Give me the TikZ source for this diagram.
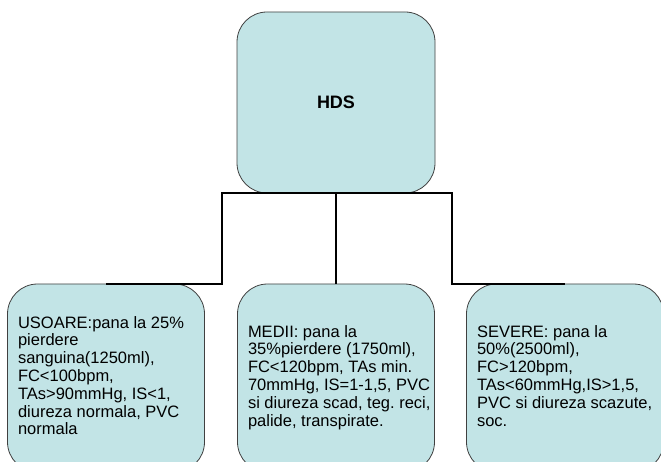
\documentclass[tikz,border=0pt]{standalone}
\usepackage{fontspec}
\setmainfont{Liberation Sans}
\frenchspacing
\definecolor{boxfill}{RGB}{194,228,230}
% lines of a box, left aligned, never broken again
\newcommand{\boxlines}[1]{\makebox[176pt][l]{\begin{tabular}{@{}l@{}}#1\end{tabular}}}
\begin{document}
\begin{tikzpicture}[x=1pt,y=-1pt,
		box/.style={draw=black!75, line width=0.8pt, fill=boxfill, rounded corners=30pt},
		leaf/.style={box, minimum width=197pt, minimum height=188pt,
			font=\fontsize{16.5}{17.8}\selectfont},
		conn/.style={draw=black, line width=2pt}]
	\useasboundingbox (0,0) rectangle (661,462);
	\clip (0,0) rectangle (661,462);
	
	% root
	\node[box, minimum width=198pt, minimum height=181pt, font=\fontsize{18}{20}\selectfont\bfseries] (hds) at (336,102.5) {HDS};
	
	% three kinds
	\node[leaf] (usoare) at (106,378) {\boxlines{USOARE:pana la 25\%\\ pierdere\\ sanguina(1250ml),\\ FC<100bpm,\\ TAs>90mmHg, IS<1,\\ diureza normala, PVC\\ normala}};
	\node[leaf] (medii) at (336,378) {\boxlines{MEDII: pana la\\ 35\%pierdere (1750ml),\\ FC<120bpm, TAs min.\\ 70mmHg, IS=1-1,5, PVC\\ si diureza scad, teg. reci,\\ palide, transpirate.}};
	\node[leaf] (severe) at (565,378) {\boxlines{SEVERE: pana la\\ 50\%(2500ml),\\ FC>120bpm,\\ TAs<60mmHg,IS>1,5,\\ PVC si diureza scazute,\\ soc.}};
	
	\draw[conn] (hds.south) -- ++(-114,0) |- (usoare.north);
	\draw[conn] (hds.south) -- (medii.north);
	\draw[conn] (hds.south) -- ++(116,0) |- (severe.north);
\end{tikzpicture}
\end{document}
